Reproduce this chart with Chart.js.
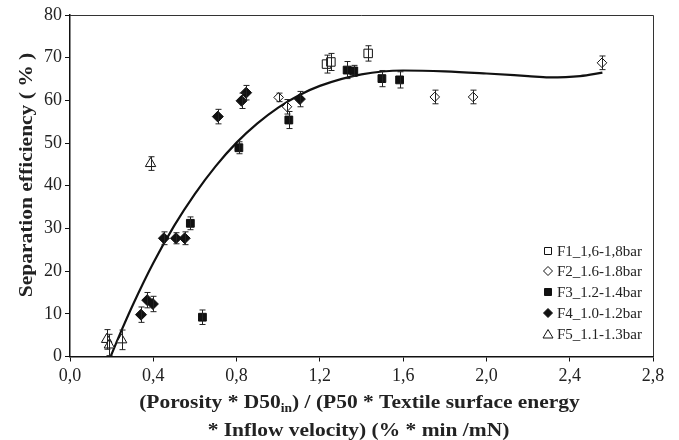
<!DOCTYPE html>
<html><head><meta charset="utf-8">
<script src="https://cdn.jsdelivr.net/npm/chart.js@4/dist/chart.umd.min.js"></script>
<style>html,body{margin:0;padding:0;background:#fff}#wrap{width:679px;height:440px}</style>
</head><body><div id="wrap"><canvas id="c" width="679" height="440"></canvas></div>
<script>
// ---- data ----
const seriesNames = ['F1_1,6-1,8bar','F2_1.6-1.8bar','F3_1.2-1.4bar','F4_1.0-1.2bar','F5_1.1-1.3bar'];
const f1X = [1.232, 1.253, 1.432];
const f1Y = [68.5, 69.0, 71.0];
const f1Err = [2.1, 2.0, 1.8];
const f2X = [1.002, 1.042, 1.752, 1.936, 2.555];
const f2Y = [60.7, 58.5, 60.8, 60.8, 68.8];
const f2Err = [1.0, 1.7, 1.6, 1.6, 1.6];
const f3X = [0.578, 0.636, 0.811, 1.051, 1.331, 1.363, 1.498, 1.583];
const f3Y = [31.2, 9.2, 48.9, 55.4, 67.1, 66.9, 65.1, 64.8];
const f3Err = [1.5, 1.7, 1.4, 2.0, 2.0, 1.3, 1.9, 1.9];
const f4X = [0.341, 0.371, 0.398, 0.451, 0.509, 0.551, 0.710, 0.824, 0.846, 1.104];
const f4Y = [9.8, 13.2, 12.3, 27.7, 27.7, 27.7, 56.2, 59.9, 61.8, 60.3];
const f4Err = [1.8, 1.8, 1.8, 1.5, 1.3, 1.5, 1.7, 1.8, 1.7, 1.8];
const f5X = [0.176, 0.189, 0.248, 0.387];
const f5Y = [4.0, 2.7, 3.9, 45.2];
const f5Err = [2.3, 2.5, 2.3, 1.6];
const fitX = [0.195, 0.25, 0.3, 0.4, 0.5, 0.6, 0.7, 0.8, 0.9, 1.0, 1.1, 1.2, 1.4, 1.6, 1.8, 2.0, 2.2, 2.3, 2.45, 2.557];
const fitY = [0, 6.4, 11.9, 21.9, 30.6, 38.1, 44.6, 50.1, 54.6, 58.3, 61.2, 63.4, 66.1, 67.0, 66.8, 66.3, 65.7, 65.4, 65.7, 66.5];
const xTickValues = [0, 0.4, 0.8, 1.2, 1.6, 2.0, 2.4, 2.8];
const xTickLabels = ['0,0','0,4','0,8','1,2','1,6','2,0','2,4','2,8'];
const yTickValues = [0, 10, 20, 30, 40, 50, 60, 70, 80];
const yTickLabels = ['0','10','20','30','40','50','60','70','80'];
const yTitle = 'Separation efficiency ( % )';
const xTitle1a = '(Porosity * D50', xTitle1sub = 'in', xTitle1b = ') / (P50 * Textile surface energy';
const xTitle2 = '* Inflow velocity) (% * min /mN)';

const pts = (xs, ys) => xs.map((x, i) => ({x: x, y: ys[i]}));
const SERIF = "'Liberation Serif', 'Times New Roman', serif";

const markerDefs = [
  {style: 'rect', fill: '#fff', r: 6},
  {style: 'rectRot', fill: '#fff', r: 4.8},
  {style: 'rect', fill: '#111', r: 5.5},
  {style: 'rectRot', fill: '#111', r: 5.5},
  {style: 'triangle', fill: '#fff', r: 6}
];
const allX = [f1X, f2X, f3X, f4X, f5X], allY = [f1Y, f2Y, f3Y, f4Y, f5Y], allErr = [f1Err, f2Err, f3Err, f4Err, f5Err];

const datasets = seriesNames.map((n, i) => ({
  label: n,
  data: pts(allX[i], allY[i]),
  errs: allErr[i],
  pointStyle: markerDefs[i].style,
  pointRadius: markerDefs[i].r,
  pointHoverRadius: markerDefs[i].r,
  backgroundColor: markerDefs[i].fill,
  borderColor: '#111',
  pointBorderWidth: 1,
  showLine: false,
  order: 1
}));
datasets.push({
  label: 'fit',
  data: pts(fitX, fitY),
  showLine: true,
  borderColor: '#111',
  borderWidth: 2.2,
  pointRadius: 0,
  cubicInterpolationMode: 'monotone',
  fill: false,
  order: 10
});

const errPlugin = {
  id: 'errbars',
  afterDatasetsDraw(chart) {
    const ctx = chart.ctx, xs = chart.scales.x, ys = chart.scales.y;
    ctx.save();
    ctx.strokeStyle = '#222';
    ctx.lineWidth = 1;
    chart.data.datasets.forEach(ds => {
      if (!ds.errs) return;
      ds.data.forEach((p, i) => {
        const e = ds.errs[i];
        const px = Math.round(xs.getPixelForValue(p.x)) + 0.5;
        const t = ys.getPixelForValue(p.y + e), b = ys.getPixelForValue(p.y - e);
        ctx.beginPath();
        ctx.moveTo(px, t); ctx.lineTo(px, b);
        ctx.moveTo(px - 3, t); ctx.lineTo(px + 3, t);
        ctx.moveTo(px - 3, b); ctx.lineTo(px + 3, b);
        ctx.stroke();
      });
    });
    ctx.restore();
  }
};

const TITLE_STRETCH = 1.13;

const framePlugin = {
  id: 'frame',
  afterDraw(chart) {
    const ctx = chart.ctx, a = chart.chartArea;
    ctx.save();
    ctx.strokeStyle = '#333';
    ctx.lineWidth = 1;
    ctx.beginPath();
    ctx.moveTo(a.left, a.top + 0.5); ctx.lineTo(a.right + 0.5, a.top + 0.5); ctx.lineTo(a.right + 0.5, a.bottom);
    ctx.stroke();
    // y title
    ctx.fillStyle = '#222';
    ctx.font = 'bold 19px ' + SERIF;
    ctx.textAlign = 'center';
    ctx.textBaseline = 'alphabetic';
    ctx.translate(32, 175);
    ctx.rotate(-Math.PI / 2);
    ctx.scale(TITLE_STRETCH, 1);
    ctx.fillText(yTitle, 0, 0);
    ctx.restore();

    // x title
    ctx.save();
    ctx.fillStyle = '#222';
    ctx.textBaseline = 'alphabetic';
    ctx.textAlign = 'left';
    const big = 'bold 19px ' + SERIF, small = 'bold 12px ' + SERIF;
    ctx.font = big; const wa = ctx.measureText(xTitle1a).width, wb = ctx.measureText(xTitle1b).width;
    ctx.font = small; const ws = ctx.measureText(xTitle1sub).width;
    const cx = 359.5;
    ctx.save();
    ctx.translate(cx, 408);
    ctx.scale(TITLE_STRETCH, 1);
    const x0 = -(wa + ws + wb) / 2;
    ctx.font = big; ctx.fillText(xTitle1a, x0, 0);
    ctx.font = small; ctx.fillText(xTitle1sub, x0 + wa, 4);
    ctx.font = big; ctx.fillText(xTitle1b, x0 + wa + ws, 0);
    ctx.restore();
    ctx.save();
    ctx.translate(cx - 1, 436);
    ctx.scale(TITLE_STRETCH, 1);
    ctx.font = big;
    ctx.textAlign = 'center';
    ctx.fillText(xTitle2, 0, 0);
    ctx.restore();
    ctx.restore();

    // legend
    ctx.save();
    const rows = [251, 271, 292, 313, 334];
    ctx.font = '15px ' + SERIF;
    ctx.textBaseline = 'middle';
    ctx.textAlign = 'left';
    seriesNames.forEach((n, i) => {
      const y = rows[i], x = 548;
      const m = markerDefs[i];
      ctx.beginPath();
      if (m.style === 'rect') {
        ctx.rect(x - 3.5, y - 3.5, 7, 7);
      } else if (m.style === 'rectRot') {
        ctx.moveTo(x, y - 4.5); ctx.lineTo(x + 4.5, y); ctx.lineTo(x, y + 4.5); ctx.lineTo(x - 4.5, y); ctx.closePath();
      } else {
        ctx.moveTo(x, y - 4.5); ctx.lineTo(x + 5, y + 4); ctx.lineTo(x - 5, y + 4); ctx.closePath();
      }
      ctx.fillStyle = m.fill; ctx.fill();
      ctx.strokeStyle = '#111'; ctx.lineWidth = 1; ctx.stroke();
      ctx.fillStyle = '#222';
      ctx.fillText(n, 557, y + 1);
    });
    ctx.restore();
  }
};

new Chart(document.getElementById('c'), {
  type: 'scatter',
  data: {datasets: datasets},
  plugins: [errPlugin, framePlugin],
  options: {
    responsive: false,
    animation: false,
    devicePixelRatio: 1,
    layout: {padding: {top: 15, right: 26, left: 0, bottom: 0}},
    plugins: {legend: {display: false}, tooltip: {enabled: false}},
    scales: {
      x: {
        type: 'linear', min: 0, max: 2.8,
        afterBuildTicks(s) { s.ticks = xTickValues.map(v => ({value: v})); },
        afterFit(s) { s.height = 83.5; },
        ticks: {
          callback: (v, i) => xTickLabels[i],
          font: {family: SERIF, size: 18}, color: '#222', padding: 4, maxRotation: 0
        },
        grid: {drawOnChartArea: false, drawTicks: true, tickLength: 5, color: '#111'},
        border: {color: '#111', width: 1.5}
      },
      y: {
        type: 'linear', min: 0, max: 80,
        afterBuildTicks(s) { s.ticks = yTickValues.map(v => ({value: v})); },
        afterFit(s) { s.width = 70; },
        ticks: {
          callback: (v, i) => yTickLabels[i],
          font: {family: SERIF, size: 18}, color: '#222', padding: 3
        },
        grid: {drawOnChartArea: false, drawTicks: true, tickLength: 5, color: '#111'},
        border: {color: '#111', width: 1.5}
      }
    }
  }
});
</script>
</body></html>
